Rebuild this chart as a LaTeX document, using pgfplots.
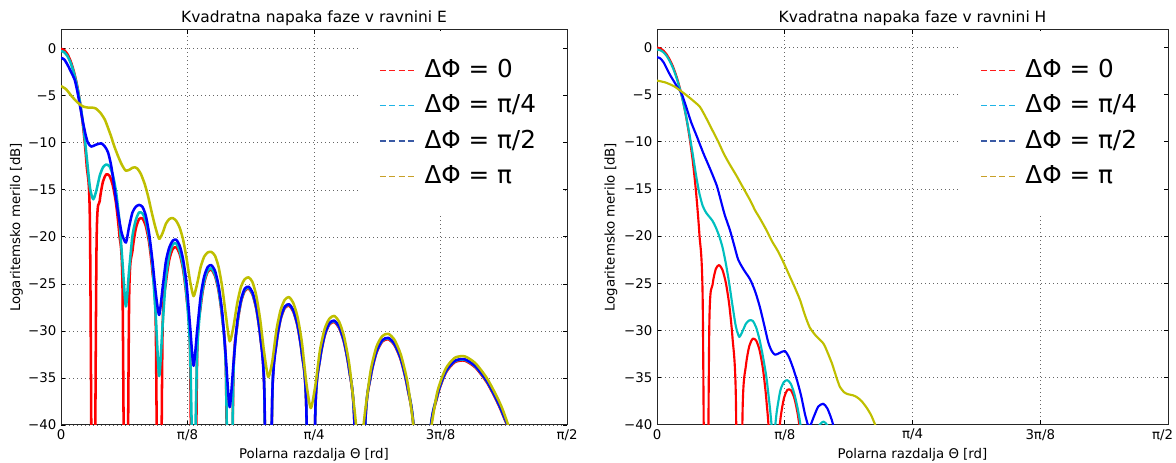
\documentclass[border=0pt]{standalone}
\usepackage{pgfplots}
\pgfplotsset{compat=1.18}
\usepackage{fontspec}
\setmainfont{DejaVu Sans}

\definecolor{cRed}{HTML}{FF0000}
\definecolor{cCyan}{HTML}{00BFBF}
\definecolor{cBlue}{HTML}{0000FF}
\definecolor{cYel}{HTML}{BFBF00}
\definecolor{lRed}{HTML}{FF1A1A}
\definecolor{lCyan}{HTML}{1EB4E6}
\definecolor{lBlue}{HTML}{3A5AA5}
\definecolor{lYel}{HTML}{C8A028}

\pgfplotsset{
  patt/.style={
    scale only axis,
    xmin=0, xmax=90, ymin=-40,
    xtick={0,22.5,45,67.5,90},
    xticklabels={0,π/8,π/4,3π/8,π/2},
    ytick={-40,-35,...,0},
    yticklabels={−40,−35,−30,−25,−20,−15,−10,−5,0},
    tick align=inside, xtick pos=both, ytick pos=both,
    major tick length=3pt,
    every tick/.style={black, line width=0.6pt},
    grid=major,
    grid style={black!60, line width=0.55pt, dash pattern=on 0.7pt off 2.3pt},
    axis line style={black!85, line width=0.75pt},
    tick label style={font=\fontsize{10}{12}\selectfont},
    label style={font=\fontsize{10}{12}\selectfont},
    title style={font=\fontsize{11.6}{13}\selectfont, at={(axis description cs:0.5,1)}, anchor=base, yshift=-0.5pt},
    xlabel={Polarna razdalja Θ [rd]},
    ylabel={Logaritemsko merilo [dB]},
    xlabel style={at={(axis description cs:0.5,-0.076)}, anchor=center},
    ylabel style={at={(axis description cs:-0.088,0.5)}, anchor=center},
    legend image code/.code={\draw[#1] (0pt,0pt) -- (27pt,0pt);},
    legend style={draw=none, fill=white, at={(axis description cs:0.992,0.997)},
      anchor=north east, inner xsep=14pt, inner ysep=16pt,
      font=\fontsize{18.5}{22}\selectfont,
      nodes={text height=13.5pt, text depth=3pt, inner ysep=5pt, inner xsep=6pt},
      cells={anchor=west}},
    every axis plot/.append style={smooth, tension=0.4, line join=round},
  },
  leg/.style={line width=1pt, dash pattern=on 4.5pt off 2.5pt, sharp plot},
}

\begin{document}
\begin{tikzpicture}
\useasboundingbox (0,0) rectangle (882pt,347.25pt);

% ---------------- ravnina E ----------------
\begin{axis}[patt, at={(45.75pt,28.5pt)}, anchor=south west,
  width=379.5pt, height=296.25pt, ymax=2,
  title={Kvadratna napaka faze v ravnini E}]
\addlegendimage{leg, lRed}\addlegendentry{ΔΦ = 0}
\addlegendimage{leg, lCyan}\addlegendentry{ΔΦ = π/4}
\addlegendimage{leg, lBlue}\addlegendentry{ΔΦ = π/2}
\addlegendimage{leg, lYel}\addlegendentry{ΔΦ = π}

\addplot[cRed, line width=1.9pt, forget plot] table {
0 0
0.57 -0.14
1.15 -0.58
1.72 -1.33
2.29 -2.42
2.87 -3.92
3.44 -5.94
4.01 -8.69
4.59 -12.62
5.16 -19.23
5.74 -70
6.32 -21.0
6.89 -16.18
7.47 -14.10
8.05 -13.35
8.63 -13.51
9.21 -14.52
9.79 -16.45
10.37 -19.73
10.95 -25.79
11.54 -70
12.12 -26.68
12.71 -21.51
13.30 -19.13
13.89 -18.11
14.48 -18.04
15.07 -18.83
15.66 -20.57
16.26 -23.69
16.86 -29.58
17.46 -70
18.06 -30.18
18.66 -24.90
19.27 -22.40
19.88 -21.27
20.49 -21.10
21.10 -21.81
21.72 -23.47
22.34 -26.50
22.96 -32.31
23.58 -70
24.21 -32.79
24.84 -27.44
25.47 -24.89
26.10 -23.71
26.74 -23.49
27.39 -24.14
28.03 -25.75
28.69 -28.74
29.34 -34.52
30.00 -70
30.66 -34.91
31.33 -29.53
32.01 -26.95
32.68 -25.75
33.37 -25.50
34.06 -26.13
34.75 -27.72
35.45 -30.68
36.16 -36.44
36.87 -70
37.59 -36.80
38.32 -31.40
39.05 -28.80
39.79 -27.58
40.54 -27.31
41.30 -27.92
42.07 -29.50
42.84 -32.46
43.63 -38.21
44.43 -70
45.24 -38.56
46.05 -33.15
46.89 -30.55
47.73 -29.32
48.59 -29.05
49.46 -29.67
50.35 -31.25
51.26 -34.21
52.19 -39.96
53.13 -70
54.10 -40.32
55.08 -34.93
56.10 -32.35
57.14 -31.13
58.21 -30.88
59.32 -31.52
60.46 -33.12
61.64 -36.11
62.87 -41.89
64.16 -70
65.51 -42.33
66.93 -36.99
68.44 -34.45
70.05 -33.32
71.81 -33.16
73.74 -33.91
75.93 -35.65
78.52 -38.83
81.89 -44.93
90 -70
};

\addplot[cCyan, line width=1.9pt, forget plot] table {
0 -0.23
0.57 -0.36
1.15 -0.78
1.72 -1.5
2.29 -2.55
2.87 -4.0
3.44 -5.9
4.01 -8.4
4.59 -11.6
5.16 -14.8
5.74 -16.0
6.32 -15.0
6.89 -13.5
7.47 -12.6
8.05 -12.3
8.63 -12.5
9.21 -13.4
9.79 -15.2
10.37 -18.2
10.95 -22.8
11.54 -27.4
12.12 -23.5
12.71 -19.9
13.30 -18.2
13.89 -17.4
14.48 -17.5
15.07 -18.3
15.66 -20.1
16.26 -23.1
16.86 -28.5
17.46 -34.8
18.06 -29.5
18.66 -24.4
19.27 -21.9
19.88 -20.8
20.49 -20.7
21.10 -21.5
21.72 -23.2
22.34 -26.3
22.96 -32.0
23.58 -48
24.21 -32.4
24.84 -27.2
25.47 -24.7
26.10 -23.55
26.74 -23.35
27.39 -24.0
28.03 -25.6
28.69 -28.6
29.34 -34.4
30.00 -60
30.66 -34.8
31.33 -29.4
32.01 -26.85
32.68 -25.65
33.37 -25.4
34.06 -26.03
34.75 -27.62
35.45 -30.58
36.16 -36.34
36.87 -70
37.59 -36.7
38.32 -31.3
39.05 -28.7
39.79 -27.48
40.54 -27.21
41.30 -27.82
42.07 -29.4
42.84 -32.36
43.63 -38.11
44.43 -70
45.24 -38.46
46.05 -33.05
46.89 -30.45
47.73 -29.22
48.59 -28.95
49.46 -29.57
50.35 -31.15
51.26 -34.11
52.19 -39.86
53.13 -70
54.10 -40.22
55.08 -34.83
56.10 -32.25
57.14 -31.03
58.21 -30.78
59.32 -31.42
60.46 -33.02
61.64 -36.01
62.87 -41.79
64.16 -70
65.51 -42.23
66.93 -36.89
68.44 -34.35
70.05 -33.22
71.81 -33.06
73.74 -33.81
75.93 -35.55
78.52 -38.73
81.89 -44.83
90 -70
};

\addplot[cBlue, line width=1.9pt, forget plot] table {
0 -0.95
0.6 -1.15
1.25 -1.8
1.9 -2.6
2.44 -3.3
2.9 -4.5
3.33 -5.9
3.91 -7.8
4.4 -9.2
4.8 -10.0
5.39 -10.4
6.2 -10.2
7.17 -10.05
7.8 -10.4
8.36 -11.0
8.95 -12.5
9.6 -15.2
10.2 -17.6
10.8 -19.6
11.54 -20.6
12.12 -18.9
12.71 -17.4
13.30 -16.8
13.89 -16.6
14.48 -16.8
15.07 -17.7
15.66 -19.6
16.26 -22.5
16.86 -26.0
17.46 -28.3
18.06 -25.5
18.66 -22.6
19.27 -21.1
19.88 -20.4
20.49 -20.3
21.10 -20.9
21.72 -22.4
22.34 -25.0
22.96 -29.5
23.58 -33.7
24.21 -30.0
24.84 -26.3
25.47 -24.2
26.10 -23.2
26.74 -23.0
27.39 -23.6
28.03 -25.2
28.69 -28.1
29.34 -33.0
30.00 -38.1
30.66 -33.6
31.33 -29.1
32.01 -26.7
32.68 -25.5
33.37 -25.3
34.06 -25.9
34.75 -27.5
35.45 -30.5
36.16 -36.3
36.87 -60
37.59 -36.65
38.32 -31.25
39.05 -28.65
39.79 -27.43
40.54 -27.16
41.30 -27.77
42.07 -29.35
42.84 -32.31
43.63 -38.06
44.43 -70
45.24 -38.41
46.05 -33.0
46.89 -30.4
47.73 -29.17
48.59 -28.9
49.46 -29.52
50.35 -31.1
51.26 -34.06
52.19 -39.81
53.13 -70
54.10 -40.17
55.08 -34.78
56.10 -32.2
57.14 -30.98
58.21 -30.73
59.32 -31.37
60.46 -32.97
61.64 -35.96
62.87 -41.74
64.16 -70
65.51 -42.18
66.93 -36.84
68.44 -34.3
70.05 -33.17
71.81 -33.01
73.74 -33.76
75.93 -35.5
78.52 -38.68
81.89 -44.78
90 -70
};

\addplot[cYel, line width=1.9pt, forget plot] table {
0 -3.96
0.9 -4.3
1.85 -5.0
2.6 -5.5
3.33 -5.9
4.0 -6.15
4.8 -6.25
5.5 -6.25
6.2 -6.35
7.0 -6.8
7.77 -7.5
8.3 -8.3
8.9 -9.3
9.5 -10.4
10.14 -11.4
10.8 -12.3
11.5 -12.95
12.2 -12.85
12.7 -12.65
13.11 -12.6
13.6 -12.75
14.2 -13.3
14.9 -14.4
15.5 -15.7
16.1 -17.3
16.8 -19.0
17.46 -20.2
18.06 -19.6
18.66 -18.6
19.27 -18.1
19.88 -18.0
20.49 -18.3
21.10 -19.0
21.72 -20.3
22.34 -22.3
22.96 -24.7
23.58 -26.3
24.21 -25.0
24.84 -23.2
25.47 -22.1
26.10 -21.65
26.74 -21.6
27.39 -22.0
28.03 -23.2
28.69 -25.4
29.34 -28.4
30.00 -31.1
30.66 -29.6
31.33 -27.1
32.01 -25.3
32.68 -24.5
33.37 -24.3
34.06 -24.8
34.75 -26.3
35.45 -28.9
36.16 -32.4
36.87 -34.9
37.59 -33.2
38.32 -29.9
39.05 -27.8
39.79 -26.7
40.54 -26.4
41.30 -27.0
42.07 -28.5
42.84 -31.2
43.63 -35.5
44.43 -38.2
45.24 -35.8
46.05 -32.1
46.89 -29.8
47.73 -28.7
48.59 -28.4
49.46 -29.0
50.35 -30.6
51.26 -33.5
52.19 -38.3
53.13 -43
54.10 -38.5
55.08 -34.2
56.10 -31.7
57.14 -30.55
58.21 -30.3
59.32 -30.95
60.46 -32.55
61.64 -35.5
62.87 -40.8
64.16 -47
65.51 -41.5
66.93 -36.5
68.44 -34.0
70.05 -32.85
71.81 -32.7
73.74 -33.45
75.93 -35.2
78.52 -38.3
81.89 -44.3
90 -60
};
\end{axis}

% ---------------- ravnina H ----------------
\begin{axis}[patt, at={(492.75pt,28.9pt)}, anchor=south west,
  width=383.25pt, height=295.9pt, ymax=1.88,
  xticklabels={0,π/8,π/4,3π/8,\hspace*{-8pt}π/2},
  ylabel style={at={(axis description cs:-0.09,0.5)}},
  title={Kvadratna napaka faze v ravnini H},
  every axis plot/.append style={line width=1.6pt}]
\addlegendimage{leg, lRed}\addlegendentry{ΔΦ = 0}
\addlegendimage{leg, lCyan}\addlegendentry{ΔΦ = π/4}
\addlegendimage{leg, lBlue}\addlegendentry{ΔΦ = π/2}
\addlegendimage{leg, lYel}\addlegendentry{ΔΦ = π}

\addplot[cRed, forget plot] table {
0 0
0.57 -0.08
1.15 -0.33
1.72 -0.74
2.29 -1.33
2.87 -2.10
3.44 -3.07
4.01 -4.26
4.59 -5.70
5.16 -7.45
5.74 -9.56
6.32 -12.14
6.89 -15.42
7.47 -19.85
8.05 -26.94
8.63 -70
9.21 -29.56
9.79 -25.15
10.37 -23.47
10.95 -23.08
11.54 -23.61
12.12 -24.95
12.71 -27.22
13.30 -30.82
13.89 -37.19
14.48 -70
15.07 -38.65
15.66 -33.76
16.26 -31.66
16.86 -30.90
17.46 -31.08
18.06 -32.11
18.66 -34.10
19.27 -37.45
19.88 -43.58
20.49 -70
21.10 -44.63
21.72 -39.55
22.34 -37.26
22.96 -36.33
23.58 -36.36
24.21 -37.25
24.84 -39.10
25.47 -42.32
26.10 -50
26.74 -70
};

\addplot[cCyan, forget plot] table {
0 -0.2
0.57 -0.28
1.15 -0.5
1.72 -0.9
2.29 -1.5
2.87 -2.25
3.44 -3.2
4.01 -4.35
4.59 -5.75
5.16 -7.4
5.74 -9.3
6.32 -11.4
6.89 -13.6
7.47 -15.5
8.05 -16.8
8.63 -17.5
9.21 -17.95
9.79 -18.4
10.37 -19.1
10.95 -20.0
11.54 -21.2
12.12 -22.9
12.71 -25.0
13.30 -27.4
13.89 -29.6
14.48 -30.7
15.07 -30.1
15.66 -29.3
16.26 -28.95
16.86 -29.0
17.46 -29.7
18.06 -31.0
18.66 -32.8
19.27 -35.0
19.88 -38.2
20.49 -41.5
21.10 -38.6
21.72 -36.4
22.34 -35.5
22.96 -35.3
23.58 -35.7
24.21 -36.8
24.84 -38.5
25.47 -40.8
26.10 -43.5
26.74 -45
27.39 -43
28.03 -41
28.69 -40.0
29.34 -39.7
30.00 -40.1
30.66 -41.5
31.33 -44
32.01 -48
};

\addplot[cBlue, forget plot] table {
0 -1.0
0.6 -1.15
1.2 -1.6
1.7 -2.2
2.3 -2.9
2.9 -3.5
3.5 -4.1
4.35 -4.9
5.2 -6.4
6.0 -7.9
7.0 -9.4
8.16 -11.2
9.3 -12.8
10.5 -14.6
11.1 -15.9
11.9 -17.7
12.86 -19.4
13.6 -21.0
14.3 -22.5
15.3 -23.6
16.4 -24.6
17.3 -25.9
18.1 -27.5
18.9 -29.5
19.6 -31.3
20.2 -32.2
20.8 -32.6
21.6 -32.4
22.5 -32.2
23.2 -32.8
23.9 -33.9
24.7 -35.4
25.4 -37.0
26.1 -39.0
26.8 -40.3
27.6 -39.2
28.4 -38.1
29.3 -37.8
30.0 -38.3
30.6 -39.2
31.0 -40
31.6 -42
32.5 -46
};

\addplot[cYel, forget plot] table {
0 -3.5
1.5 -3.7
3.0 -4.1
4.35 -4.67
5.5 -5.2
6.5 -5.7
7.57 -6.3
8.6 -7.4
9.7 -8.7
10.8 -10.0
11.8 -11.3
12.86 -12.45
14.0 -13.6
15.2 -14.9
16.4 -16.2
17.3 -17.3
18.1 -18.1
19.3 -19.4
20.3 -20.6
21.2 -21.5
22.2 -22.7
23.4 -24.3
24.3 -25.5
25.2 -26.8
26.0 -28.3
26.9 -29.7
28.0 -30.6
29.3 -31.4
30.0 -32.3
30.8 -33.5
31.5 -34.8
32.2 -36.0
33.0 -36.6
33.7 -36.8
34.5 -36.9
35.2 -37.1
36.0 -37.5
36.9 -38.2
37.7 -39.0
38.4 -40.0
39.0 -41
40 -43
};
\end{axis}
\end{tikzpicture}
\end{document}
